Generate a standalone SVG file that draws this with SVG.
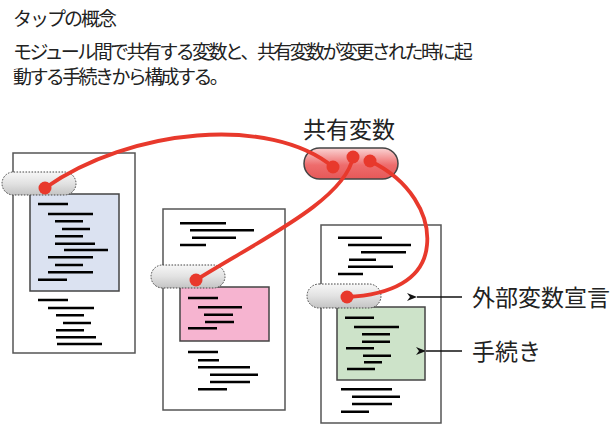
<svg xmlns="http://www.w3.org/2000/svg" width="612" height="429" viewBox="0 0 612 429">
<defs>
<linearGradient id="gGray" x1="0" y1="0" x2="0" y2="1">
<stop offset="0" stop-color="#f7f7f7"/><stop offset="0.5" stop-color="#e2e2e2"/><stop offset="1" stop-color="#c4c4c4"/>
</linearGradient>
<linearGradient id="gRed" x1="0" y1="0" x2="0" y2="1">
<stop offset="0" stop-color="#fad4d4"/><stop offset="0.55" stop-color="#ee6c6c"/><stop offset="1" stop-color="#e65858"/>
</linearGradient>
<marker id="arr" markerWidth="12" markerHeight="10" refX="1" refY="5" orient="auto" markerUnits="userSpaceOnUse">
<path d="M1,5 L11,1 L8,5 L11,9 Z" fill="#111"/>
</marker>
<style>
.doc{fill:#fff;stroke:#555;stroke-width:1.5}
.box{stroke:#444;stroke-width:1.5}
.code{stroke:#000;stroke-width:2.4;fill:none}
.pill{fill:url(#gGray);stroke:#444;stroke-width:1;stroke-dasharray:1.6 1.4}
.wire{fill:none;stroke:#e8392c;stroke-width:3.8;stroke-linecap:round}
.dot{fill:#e8392c}
.txt{font-family:"Noto Sans CJK JP","Noto Sans",sans-serif;fill:#222}
.hd{font-size:19px;letter-spacing:-2.6px}
.lbl{font-family:"Noto Sans CJK JP","Noto Sans",sans-serif;fill:#222;font-size:23px}
.ptr{stroke:#111;stroke-width:1.5;fill:none}
</style>
</defs>

<g id="title">
<text class="txt hd" x="13" y="26" style="letter-spacing:-2px">タップの概念</text>
<text class="txt hd" x="13" y="59">モジュール間で共有する変数と、共有変数が変更された時に起</text>
<text class="txt hd" x="13" y="84">動する手続きから構成する。</text>
</g>

<g id="module1">
<rect class="doc" x="13" y="153" width="122" height="200"/>
<rect class="box" x="30" y="194" width="89" height="97" fill="#dbe2f1"/>
<path class="code" d="M38,204H68M48,214H93M55,221.3H83M62,229H90M55,236.3H83M55,243.7H95M64,250H108M48,257.3H93M55,265H83M48,272.3H93M38,279.7H67"/>
<path class="code" d="M38,300H68M48,308H94M56,315.3H84M63,323H91M56,330.3H84M56,337.3H96M57,344H102"/>
<rect class="pill" x="2" y="172" width="74" height="23" rx="11.5"/>
</g>

<g id="module2">
<rect class="doc" x="163" y="209" width="122" height="201"/>
<path class="code" d="M180,223.3H226M190,230.3H254M192,237.7H236M180,245H206"/>
<rect class="box" x="180" y="287" width="89" height="54" fill="#f6b4d0"/>
<path class="code" d="M188,298H218M198,307.3H242M204,314.7H233M205,322H234M188,328.3H217"/>
<path class="code" d="M188,352H218M198,360.3H219M198,367.3H250M210,374.7H258M210,382H250M198,389.3H227"/>
<rect class="pill" x="151" y="265" width="74" height="23" rx="11.5"/>
</g>

<g id="module3">
<rect class="doc" x="321" y="225" width="120" height="198"/>
<path class="code" d="M338,237.7H382M348,245H411M361,252.3H406M349,259.7H376M348,266.7H393M338,274H363"/>
<rect class="box" x="337" y="307" width="88" height="73" fill="#cde3c9"/>
<path class="code" d="M345,317.7H374M354,327H399M362,334.3H390M362,341.7H390M346,348.3H374M363,355.7H391M364,362.3H382M347,369H375"/>
<path class="code" d="M341,389.3H392M352,396.7H400M352,404H392M341,411.7H369"/>
<rect class="pill" x="307" y="284" width="74" height="24" rx="12"/>
</g>

<g id="shared">
<text class="txt" x="303" y="138" font-size="23">共有変数</text>
<rect x="304" y="148" width="94" height="31" rx="15.5" fill="url(#gRed)" stroke="#444" stroke-width="1.5"/>
</g>

<g id="connectors">
<path class="wire" d="M45,188 C130,128 270,115 333,167"/>
<path class="wire" d="M196,280 C260,240 345,200 353,157"/>
<path class="wire" d="M370,161 C410,180 430,215 427,245 C424,280 390,295 347,297"/>
<circle class="dot" cx="45" cy="188" r="6.5"/>
<circle class="dot" cx="196" cy="280" r="6.5"/>
<circle class="dot" cx="347" cy="297" r="6.5"/>
<circle class="dot" cx="333" cy="167" r="6.5"/>
<circle class="dot" cx="353" cy="157" r="6.5"/>
<circle class="dot" cx="370" cy="161" r="6.5"/>
<line class="ptr" x1="462" y1="297" x2="417" y2="297" marker-end="url(#arr)"/>
<line class="ptr" x1="462" y1="351" x2="426" y2="351" marker-end="url(#arr)"/>
</g>

<g id="labels">
<text class="lbl" x="472" y="306">外部変数宣言</text>
<text class="lbl" x="472" y="360">手続き</text>
</g>
</svg>
